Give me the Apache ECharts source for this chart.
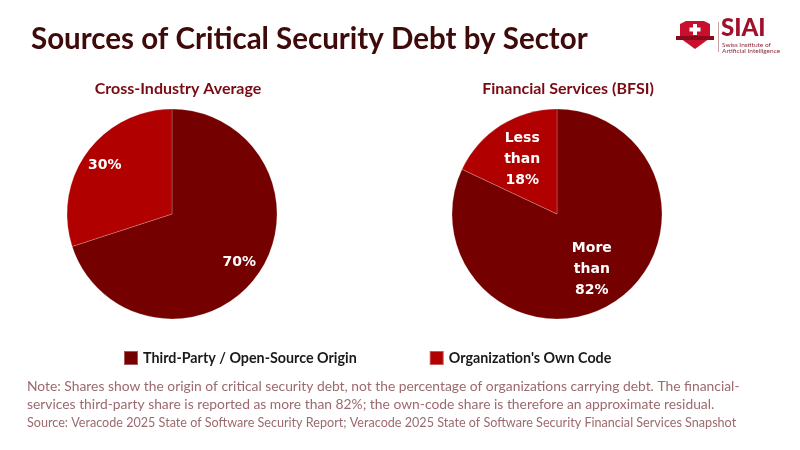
<!DOCTYPE html>
<html>
<head>
<meta charset="utf-8">
<script src="https://cdn.jsdelivr.net/npm/echarts@6/dist/echarts.min.js"></script>
<style>
  html, body { margin: 0; padding: 0; background: #ffffff; }
  #chart { width: 800px; height: 450px; }
</style>
</head>
<body>
<div id="chart"></div>
<script>
// Data
var sourceNames = ['Third-Party / Open-Source Origin', "Organization's Own Code"];
var crossIndustry = [70, 30];
var crossLabels = ['70%', '30%'];
var bfsi = [82, 18];
var bfsiLabels = ['More\nthan\n82%', 'Less\nthan\n18%'];

var darkRed = '#740000';
var brightRed = '#b00000';
var font = 'Lato, "Noto Sans", sans-serif';

var chart = echarts.init(document.getElementById('chart'));

function pieData(values, labels) {
    return values.map(function(v, i) {
        return { value: v, name: sourceNames[i], labelText: labels[i] };
    });
}

// visible pie with no labels
function slicePie(center, values, labels) {
    return {
        type: 'pie',
        center: center,
        radius: 105,
        startAngle: 90,
        clockwise: true,
        silent: true,
        label: { show: false },
        labelLine: { show: false },
        itemStyle: {
            borderColor: 'rgba(255,255,255,0.35)',
            borderWidth: 0.6
        },
        data: pieData(values, labels)
    };
}

// transparent overlay pie, only used to place labels further out
function labelPie(center, values, labels, r) {
    return {
        type: 'pie',
        center: center,
        radius: r,
        startAngle: 90,
        clockwise: true,
        silent: true,
        legendHoverLink: false,
        itemStyle: { color: 'rgba(0,0,0,0)' },
        label: {
            show: true,
            position: 'inside',
            color: '#ffffff',
            fontFamily: '"DejaVu Sans", sans-serif',
            fontWeight: 'bold',
            fontSize: 14,
            lineHeight: 21,
            formatter: function(p) { return p.data.labelText; }
        },
        labelLine: { show: false },
        data: pieData(values, labels).map(function(d) {
            d.name = d.name + ' ';
            return d;
        })
    };
}

var option = {
    backgroundColor: '#ffffff',
    color: [darkRed, brightRed],
    animation: false,
    title: [
        {
            text: 'Sources of Critical Security Debt by Sector',
            left: 26, top: 19,
            textStyle: { color: '#3f0a0a', fontSize: 29.5, fontWeight: 'bold', fontFamily: font }
        },
        {
            text: 'Cross-Industry Average',
            left: 173, top: 76, textAlign: 'center',
            textStyle: { color: '#7a0a12', fontSize: 16, fontWeight: 'bold', fontFamily: font }
        },
        {
            text: 'Financial Services (BFSI)',
            left: 563, top: 76, textAlign: 'center',
            textStyle: { color: '#7a0a12', fontSize: 16, fontWeight: 'bold', fontFamily: font }
        }
    ],
    legend: {
        data: sourceNames,
        top: 345,
        left: 118,
        itemWidth: 14,
        itemHeight: 14,
        itemGap: 72,
        icon: 'rect',
        selectedMode: false,
        textStyle: { color: '#1a1a1a', fontSize: 14.3, fontWeight: 'bold', fontFamily: font }
    },
    graphic: [
        {
            type: 'text', left: 27, top: 378,
            style: {
                text: 'Note: Shares show the origin of critical security debt, not the percentage of organizations carrying debt. The financial-\nservices third-party share is reported as more than 82%; the own-code share is therefore an approximate residual.',
                fill: '#9c6a6e', fontSize: 13.85, lineHeight: 18, fontFamily: font
            }
        },
        {
            type: 'text', left: 27, top: 416,
            style: {
                text: 'Source: Veracode 2025 State of Software Security Report; Veracode 2025 State of Software Security Financial Services Snapshot',
                fill: '#9c6a6e', fontSize: 12.6, fontFamily: font
            }
        },
        // logo: shield
        {
            type: 'polygon', silent: true,
            shape: { points: [[680, 24], [686, 21], [704, 21], [710, 24], [710, 38], [695, 49], [680, 38]] },
            style: { fill: '#c8102e' }
        },
        {
            type: 'rect', silent: true,
            shape: { x: 676, y: 36, width: 38, height: 4 },
            style: { fill: '#8a0a1a' }
        },
        {
            type: 'rect', silent: true,
            shape: { x: 693, y: 24, width: 4, height: 11 },
            style: { fill: '#ffffff' }
        },
        {
            type: 'rect', silent: true,
            shape: { x: 689.5, y: 27.5, width: 11, height: 4 },
            style: { fill: '#ffffff' }
        },
        {
            type: 'rect', silent: true,
            shape: { x: 718, y: 22, width: 1, height: 30 },
            style: { fill: '#c8a0a0' }
        },
        {
            type: 'text', left: 721, top: 16,
            style: { text: 'SIAI', fill: '#a0102a', fontSize: 24, fontWeight: 900, fontFamily: font }
        },
        {
            type: 'text', left: 722, top: 41,
            style: { text: 'Swiss Institute of\nArtificial Intelligence', fill: '#8a2a3a', fontSize: 6.5, lineHeight: 6.5, fontFamily: font }
        }
    ],
    series: [
        slicePie([172, 214], crossIndustry, crossLabels),
        labelPie([172, 214], crossIndustry, crossLabels, 160),
        slicePie([557, 214], bfsi, bfsiLabels),
        labelPie([557, 214], bfsi, bfsiLabels, 124)
    ]
};

chart.setOption(option);
</script>
</body>
</html>
